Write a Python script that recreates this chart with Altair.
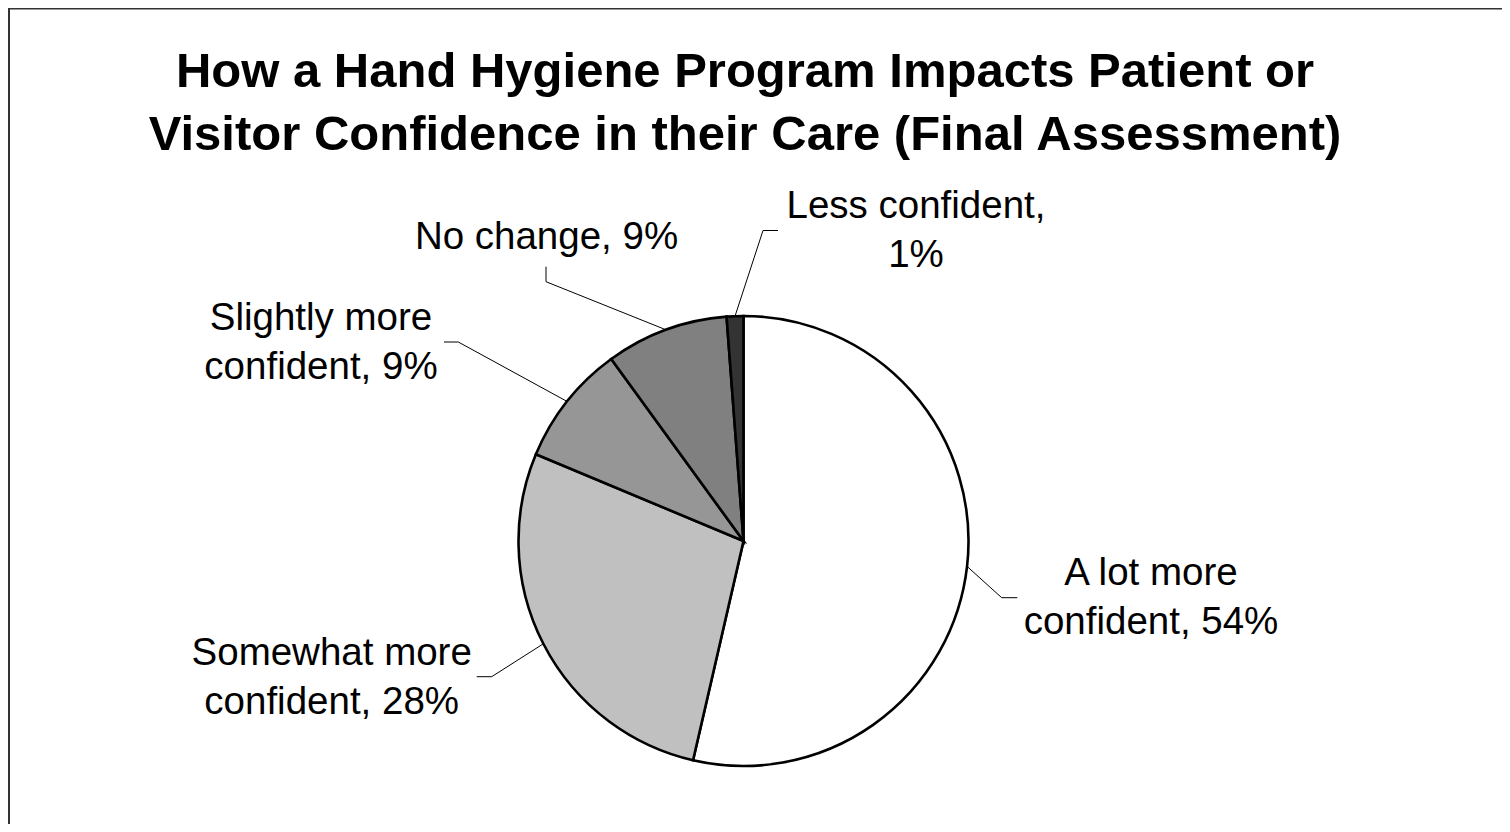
import altair as alt
import pandas as pd

# ---- data ----
CATEGORIES = ["A lot more confident", "Somewhat more confident",
              "Slightly more confident", "No change", "Less confident"]
VALUES = [53.6, 27.7, 8.7, 8.8, 1.2]
COLORS = ["#ffffff", "#c0c0c0", "#969696", "#808080", "#333333"]
TITLE_LINES = ["How a Hand Hygiene Program Impacts Patient or",
               "Visitor Confidence in their Care (Final Assessment)"]

# ---- layout (view pixels) ----
W, H = 1494, 816
CX, CY, R = 735.5, 533, 225
FONT = "Liberation Sans, Arial, sans-serif"
LABEL_WRAP = [3, 2, 2, 0, 2]          # words on first label line (0 = no break)
LABEL_X = [1143, 323.7, 313, 538.5, 908]
LABEL_Y = [577, 657, 322, 241, 210]   # first baseline
ELBOW_X = [993.7, 483.7, 450.3, 538, 755]
ELBOW_Y = [589.7, 668.7, 334, 273.7, 222.5]
END_X = [1009.3, 468.7, 436, 538, 770]
END_Y = [589.7, 668.7, 334, 258.7, 222.5]


def label_text(cat, v, n):
    words = f"{cat}, {round(v)}%".split(" ")
    if n == 0:
        return " ".join(words)
    return " ".join(words[:n]) + "\n" + " ".join(words[n:])


df = pd.DataFrame({
    "category": CATEGORIES,
    "value": VALUES,
    "order": list(range(len(CATEGORIES))),
    "label": [label_text(c, v, n) for c, v, n in zip(CATEGORIES, VALUES, LABEL_WRAP)],
    "label_x": LABEL_X, "label_y": LABEL_Y,
    "elbow_x": ELBOW_X, "elbow_y": ELBOW_Y,
    "end_x": END_X, "end_y": END_Y,
})

xs = alt.Scale(domain=[0, W], nice=False, zero=False)
ys = alt.Scale(domain=[0, H], nice=False, zero=False, reverse=True)

base = alt.Chart(df)

pie = base.mark_arc(radius=R, stroke="black", strokeWidth=2.6).encode(
    theta=alt.Theta("value:Q", stack=True),
    order=alt.Order("order:Q"),
    color=alt.Color("category:N", scale=alt.Scale(domain=CATEGORIES, range=COLORS), legend=None),
    x=alt.value(CX),
    y=alt.value(CY),
)

leader_base = base.transform_window(
    cum="sum(value)", sort=[alt.SortField("order")]
).transform_joinaggregate(
    total="sum(value)"
).transform_calculate(
    mid="(datum.cum - datum.value / 2) / datum.total * 2 * PI"
).transform_calculate(
    edge_x=f"{CX} + {R} * sin(datum.mid)",
    edge_y=f"{CY} - {R} * cos(datum.mid)",
)

leader1 = leader_base.mark_rule(color="black", strokeWidth=1).encode(
    x=alt.X("edge_x:Q", scale=xs, axis=None),
    y=alt.Y("edge_y:Q", scale=ys, axis=None),
    x2="elbow_x:Q", y2="elbow_y:Q",
)
leader2 = base.mark_rule(color="black", strokeWidth=1).encode(
    x=alt.X("elbow_x:Q", scale=xs, axis=None),
    y=alt.Y("elbow_y:Q", scale=ys, axis=None),
    x2="end_x:Q", y2="end_y:Q",
)

labels = base.mark_text(
    font=FONT, fontSize=38.5, align="center", baseline="alphabetic",
    lineBreak="\n", lineHeight=49, color="black",
).encode(
    x=alt.X("label_x:Q", scale=xs, axis=None),
    y=alt.Y("label_y:Q", scale=ys, axis=None),
    text="label:N",
)

title_df = pd.DataFrame({"t": ["\n".join(TITLE_LINES)]})
title = alt.Chart(title_df).mark_text(
    font=FONT, fontSize=49, fontWeight="bold", align="center", baseline="alphabetic",
    lineBreak="\n", lineHeight=63, color="black",
).encode(x=alt.value(737), y=alt.value(79), text="t:N")

frame_df = pd.DataFrame({"a": [0]})
frame_left = alt.Chart(frame_df).mark_rule(color="#333333", strokeWidth=2).encode(
    x=alt.value(1), y=alt.value(0), y2=alt.value(H))
frame_top = alt.Chart(frame_df).mark_rule(color="#333333", strokeWidth=2).encode(
    x=alt.value(0), x2=alt.value(W), y=alt.value(0.5))

chart = alt.layer(
    pie, leader1, leader2, labels, title, frame_left, frame_top
).properties(
    width=W, height=H,
    autosize=alt.AutoSizeParams(type="none"),
    padding=0,
).configure_view(stroke=None).configure(background="white")

chart.save("out.html", embed_options={"renderer": "svg", "actions": False})
